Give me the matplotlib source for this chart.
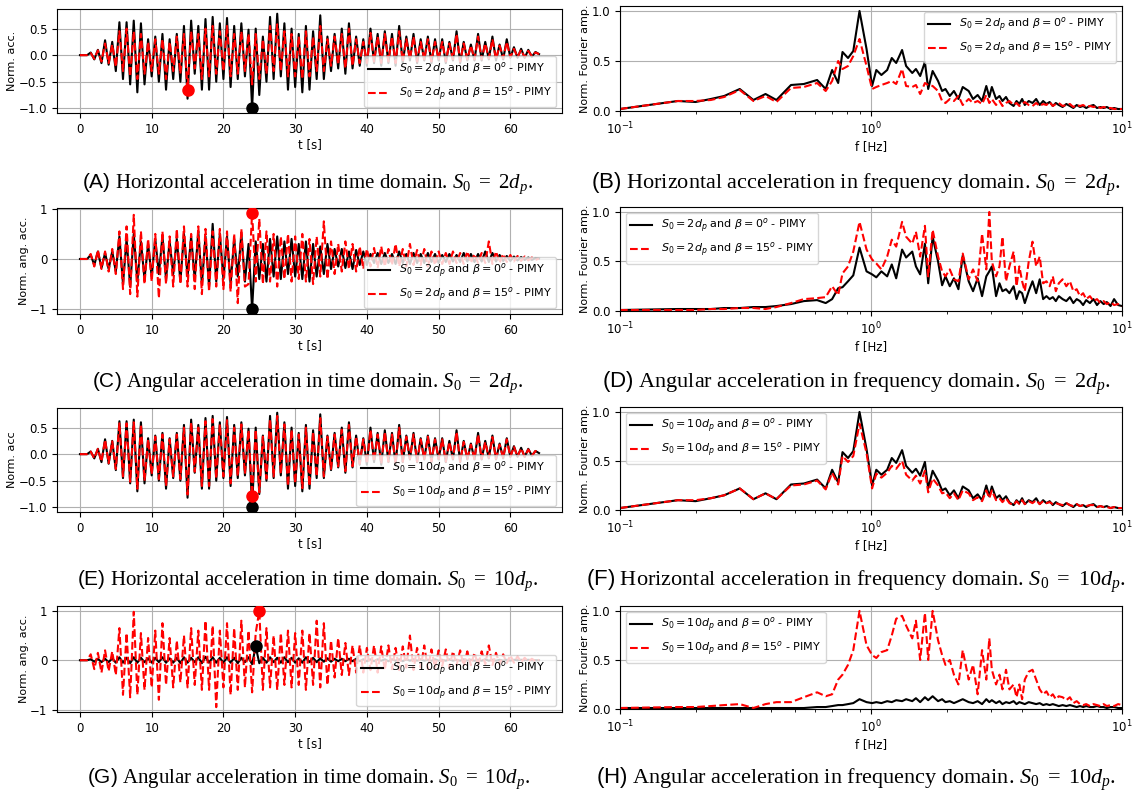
import numpy as np
import matplotlib.pyplot as plt

# time axis of the normalised records [s]
t = np.arange(0, 64.5, 0.5)

# (A)/(E) horizontal acceleration, S0 = 2dp / 10dp
hor_2dp_b0 = [
    0, 0, 0, 0.05, -0.08, 0.10, -0.15, 0.28, -0.18, 0.25, -0.30, 0.62, -0.45, 0.62, -0.55, 0.65, -0.70, 0.60, -0.55, 0.30,
    -0.40, 0.35, -0.50, 0.40, -0.65, 0.30, -0.45, 0.40, -0.50, 0.55, -0.82, 0.65, -0.35, 0.55, -0.65, 0.68, -0.65, 0.72, -0.50, 0.60,
    -0.45, 0.70, -0.60, 0.55, -0.45, 0.60, -0.40, 0.48, -1.00, 0.50, -0.75, 0.35, -0.50, 0.72, -0.45, 0.78, -0.40, 0.60, -0.65, 0.50,
    -0.60, 0.40, -0.70, 0.55, -0.65, 0.45, -0.45, 0.75, -0.45, 0.35, -0.30, 0.40, -0.25, 0.50, -0.35, 0.60, -0.25, 0.35, -0.20, 0.30,
    -0.20, 0.50, -0.15, 0.40, -0.20, 0.45, -0.15, 0.40, -0.20, 0.55, -0.15, 0.35, -0.10, 0.40, -0.15, 0.30, -0.10, 0.35, -0.15, 0.30,
    -0.10, 0.30, -0.15, 0.25, -0.10, 0.45, -0.15, 0.25, -0.10, 0.20, -0.10, 0.40, -0.10, 0.25, -0.08, 0.35, -0.10, 0.20, -0.08, 0.30,
    -0.05, 0.15, -0.05, 0.12, -0.05, 0.10, -0.03, 0.06, 0.02]
hor_2dp_b15 = [
    0, 0, 0, 0.04, -0.07, 0.09, -0.12, 0.22, -0.15, 0.20, -0.22, 0.45, -0.30, 0.50, -0.40, 0.45, -0.45, 0.40, -0.35, 0.25,
    -0.30, 0.30, -0.35, 0.30, -0.45, 0.25, -0.30, 0.35, -0.35, 0.40, -0.65, 0.45, -0.25, 0.40, -0.45, 0.50, -0.40, 0.55, -0.35, 0.45,
    -0.30, 0.55, -0.40, 0.40, -0.35, 0.45, -0.30, 0.40, -0.55, 0.40, -0.45, 0.30, -0.35, 0.55, -0.30, 0.58, -0.30, 0.45, -0.40, 0.40,
    -0.40, 0.35, -0.45, 0.45, -0.40, 0.35, -0.30, 0.55, -0.30, 0.30, -0.20, 0.35, -0.18, 0.40, -0.25, 0.50, -0.20, 0.30, -0.15, 0.25,
    -0.15, 0.42, -0.12, 0.35, -0.15, 0.40, -0.12, 0.35, -0.15, 0.45, -0.12, 0.30, -0.08, 0.35, -0.12, 0.25, -0.08, 0.30, -0.12, 0.25,
    -0.08, 0.25, -0.12, 0.22, -0.08, 0.40, -0.12, 0.22, -0.08, 0.18, -0.08, 0.35, -0.08, 0.22, -0.06, 0.30, -0.08, 0.18, -0.06, 0.25,
    -0.04, 0.12, -0.04, 0.10, -0.04, 0.08, -0.02, 0.05, 0.02]
hor_10dp_b0 = hor_2dp_b0
hor_10dp_b15 = [
    0, 0, 0, 0.05, -0.08, 0.10, -0.14, 0.27, -0.17, 0.24, -0.28, 0.58, -0.42, 0.58, -0.52, 0.60, -0.65, 0.56, -0.50, 0.28,
    -0.38, 0.33, -0.47, 0.37, -0.60, 0.28, -0.42, 0.37, -0.47, 0.50, -0.76, 0.60, -0.33, 0.50, -0.60, 0.62, -0.60, 0.66, -0.46, 0.56,
    -0.42, 0.64, -0.55, 0.50, -0.42, 0.56, -0.37, 0.45, -0.78, 0.46, -0.72, 0.33, -0.46, 0.66, -0.42, 0.72, -0.37, 0.56, -0.60, 0.46,
    -0.55, 0.37, -0.64, 0.50, -0.60, 0.42, -0.42, 0.68, -0.42, 0.33, -0.28, 0.37, -0.23, 0.46, -0.32, 0.55, -0.23, 0.33, -0.18, 0.28,
    -0.18, 0.46, -0.14, 0.37, -0.18, 0.42, -0.14, 0.37, -0.18, 0.50, -0.14, 0.33, -0.09, 0.37, -0.14, 0.28, -0.09, 0.33, -0.14, 0.28,
    -0.09, 0.28, -0.14, 0.23, -0.09, 0.42, -0.14, 0.23, -0.09, 0.18, -0.09, 0.37, -0.09, 0.23, -0.07, 0.32, -0.09, 0.18, -0.07, 0.28,
    -0.05, 0.14, -0.05, 0.11, -0.05, 0.09, -0.03, 0.06, 0.02]

# (C)/(G) angular acceleration
ang_2dp_b0 = [
    0, 0, 0, 0.08, -0.12, 0.15, -0.18, 0.12, -0.20, 0.15, -0.25, 0.45, -0.50, 0.40, -0.55, 0.50, -0.45, 0.35, -0.40, 0.30,
    -0.35, 0.40, -0.30, 0.45, -0.40, 0.35, -0.30, 0.40, -0.45, 0.50, -0.35, 0.45, -0.40, 0.55, -0.50, 0.45, -0.55, 0.70, -0.45, 0.50,
    -0.40, 0.45, -0.50, 0.40, -0.35, 0.50, -0.45, 0.30, -1.00, 0.35, -0.40, 0.30, -0.45, 0.40, -0.35, 0.45, -0.40, 0.35, -0.30, 0.40,
    -0.35, 0.30, -0.40, 0.35, -0.45, 0.30, -0.35, 0.25, -0.30, 0.30, -0.20, 0.20, -0.15, 0.20, -0.18, 0.15, -0.20, 0.18, -0.12, 0.15,
    -0.12, 0.10, -0.08, 0.12, -0.10, 0.12, -0.08, 0.10, -0.10, 0.15, -0.08, 0.10, -0.10, 0.12, -0.08, 0.10, -0.08, 0.12, -0.06, 0.10,
    -0.08, 0.08, -0.06, 0.10, -0.05, 0.08, -0.06, 0.12, -0.05, 0.10, -0.06, 0.10, -0.05, 0.15, -0.06, 0.12, -0.05, 0.08, -0.04, 0.06,
    -0.04, 0.05, -0.03, 0.04, -0.02, 0.03, -0.02, 0.02, 0.01]
ang_2dp_b15 = [
    0, 0, 0, 0.10, -0.15, 0.18, -0.20, 0.15, -0.25, 0.20, -0.30, 0.55, -0.60, 0.65, -0.70, 0.88, -0.75, 0.55, -0.50, 0.40,
    -0.45, 0.50, -0.78, 0.55, -0.50, 0.45, -0.55, 0.60, -0.50, 0.65, -0.55, 0.50, -0.60, 0.65, -0.70, 0.60, -0.65, 0.55, -0.55, 0.60,
    -0.60, 0.55, -0.65, 0.50, -0.88, 0.60, -0.55, -0.50, 0.92, -0.45, 0.80, -0.50, 0.55, -0.45, 0.50, -0.55, 0.45, -0.40, 0.50, -0.45,
    0.45, -0.40, 0.50, -0.45, 0.40, -0.50, 0.45, -0.35, 0.75, -0.40, 0.35, -0.30, 0.30, -0.25, 0.35, -0.20, 0.30, -0.25, 0.25, -0.20,
    0.20, -0.15, 0.22, -0.18, 0.25, -0.15, 0.20, -0.12, 0.30, -0.15, 0.20, -0.15, 0.30, -0.12, 0.18, -0.12, 0.20, -0.15, 0.15, -0.12,
    0.15, -0.10, 0.12, -0.10, 0.15, -0.08, 0.12, -0.10, 0.15, -0.08, 0.10, -0.08, 0.12, -0.08, 0.35, -0.10, 0.15, -0.08, 0.10, -0.06,
    0.08, -0.05, 0.06, -0.04, 0.05, -0.03, 0.03, -0.02, 0.01]
ang_10dp_b0 = [
    0, 0, 0, 0.02, -0.03, 0.03, -0.04, 0.03, -0.04, 0.04, -0.05, 0.06, -0.05, 0.05, -0.06, 0.06, -0.05, 0.05, -0.04, 0.04,
    -0.05, 0.05, -0.04, 0.06, -0.05, 0.04, -0.05, 0.05, -0.06, 0.06, -0.05, 0.05, -0.04, 0.06, -0.06, 0.07, -0.05, 0.06, -0.05, 0.05,
    -0.05, 0.06, -0.05, 0.05, -0.06, 0.05, -0.04, 0.06, -0.08, 0.28, -0.06, 0.05, -0.05, 0.06, -0.04, 0.05, -0.05, 0.06, -0.04, 0.05,
    -0.05, 0.04, -0.05, 0.06, -0.04, 0.05, -0.04, 0.04, -0.03, 0.04, -0.03, 0.03, -0.02, 0.03, -0.02, 0.03, -0.02, 0.03, -0.02, 0.02,
    -0.02, 0.02, -0.02, 0.02, -0.01, 0.02, -0.02, 0.02, -0.01, 0.02, -0.02, 0.02, -0.01, 0.02, -0.01, 0.02, -0.01, 0.01, -0.01, 0.02,
    -0.01, 0.01, -0.01, 0.02, -0.01, 0.01, -0.01, 0.02, -0.01, 0.01, -0.01, 0.01, -0.01, 0.02, -0.01, 0.01, -0.01, 0.01, -0.01, 0.01,
    -0.01, 0.01, 0, 0.01, 0, 0.01, 0, 0, 0]
ang_10dp_b15 = [
    0, 0, 0, 0.12, -0.18, 0.15, -0.25, 0.20, -0.22, 0.18, -0.30, 0.65, -0.70, 0.55, -0.75, 0.98, -0.70, 0.55, -0.60, 0.45,
    -0.55, 0.60, -0.80, 0.75, -0.50, 0.45, -0.55, 0.40, -0.45, 0.50, -0.55, 0.65, -0.50, 0.60, -0.60, 0.80, -0.60, 0.70, -0.95, 0.60,
    -0.55, 0.75, -0.70, 0.65, -0.60, 0.80, -0.55, 0.60, -0.65, 0.55, 1.00, -0.60, 0.65, -0.55, 0.50, -0.60, 0.55, -0.50, 0.60, -0.55,
    0.55, -0.50, 0.60, -0.60, 0.55, -0.50, 0.80, -0.55, 0.75, -0.50, 0.40, -0.35, 0.45, -0.30, 0.35, -0.30, 0.30, -0.25, 0.30, -0.25,
    0.25, -0.20, 0.30, -0.25, 0.28, -0.20, 0.30, -0.18, 0.25, -0.20, 0.28, -0.15, 0.50, -0.20, 0.25, -0.15, 0.30, -0.18, 0.22, -0.15,
    0.20, -0.12, 0.22, -0.15, 0.18, -0.10, 0.20, -0.12, 0.18, -0.10, 0.15, -0.10, 0.18, -0.08, 0.30, -0.10, 0.15, -0.08, 0.12, -0.06,
    0.10, -0.05, 0.08, -0.04, 0.05, -0.03, 0.03, -0.02, 0.01]

# Fourier spectra, frequency axis [Hz]
freq = [0.10, 0.17, 0.20, 0.23, 0.26, 0.30, 0.34, 0.38, 0.42, 0.48, 0.54, 0.61, 0.66, 0.70, 0.74, 0.77, 0.81, 0.85, 0.90, 0.96,
        1.01, 1.05, 1.10, 1.16, 1.21, 1.26, 1.33, 1.38, 1.46, 1.51, 1.57, 1.64, 1.69, 1.76, 1.85, 1.92, 1.98,
        2.06, 2.14, 2.23, 2.32, 2.45, 2.55, 2.66, 2.77, 2.88, 2.96,
        3.03, 3.15, 3.25, 3.34, 3.45, 3.56, 3.70, 3.80, 3.90, 4.00, 4.10, 4.25, 4.40, 4.55, 4.70, 4.85,
        5.00, 5.15, 5.30, 5.45, 5.60, 5.80, 6.00, 6.20, 6.40, 6.60, 6.80, 7.00, 7.20, 7.45, 7.70, 7.95, 8.20, 8.45, 8.70, 9.00, 9.30, 9.65, 10.0]

fft_hor_2dp_b0 = [
    0.02, 0.10, 0.09, 0.12, 0.15, 0.22, 0.11, 0.17, 0.11, 0.26, 0.27, 0.31, 0.22, 0.41, 0.28, 0.59, 0.53, 0.60, 1.00, 0.62,
    0.25, 0.41, 0.36, 0.41, 0.53, 0.48, 0.61, 0.45, 0.38, 0.42, 0.35, 0.49, 0.22, 0.40, 0.30, 0.20, 0.22,
    0.15, 0.20, 0.12, 0.24, 0.20, 0.12, 0.16, 0.10, 0.25, 0.14,
    0.24, 0.12, 0.15, 0.10, 0.14, 0.08, 0.05, 0.10, 0.07, 0.12, 0.06, 0.10, 0.08, 0.12, 0.06, 0.10,
    0.07, 0.09, 0.05, 0.08, 0.06, 0.04, 0.07, 0.05, 0.03, 0.06, 0.04, 0.05, 0.03, 0.05, 0.06, 0.03, 0.04, 0.03, 0.04, 0.02, 0.03, 0.02, 0.02]
fft_hor_2dp_b15 = [
    0.02, 0.10, 0.10, 0.11, 0.14, 0.21, 0.10, 0.15, 0.09, 0.23, 0.24, 0.28, 0.20, 0.30, 0.50, 0.42, 0.45, 0.55, 0.72, 0.45,
    0.22, 0.24, 0.26, 0.28, 0.30, 0.27, 0.42, 0.25, 0.24, 0.26, 0.17, 0.28, 0.26, 0.25, 0.20, 0.10, 0.08,
    0.12, 0.10, 0.15, 0.06, 0.12, 0.08, 0.10, 0.07, 0.16, 0.08,
    0.12, 0.06, 0.10, 0.05, 0.08, 0.10, 0.06, 0.08, 0.05, 0.07, 0.09, 0.06, 0.05, 0.08, 0.05, 0.07,
    0.06, 0.09, 0.05, 0.07, 0.08, 0.05, 0.06, 0.07, 0.04, 0.06, 0.05, 0.06, 0.04, 0.05, 0.04, 0.05, 0.03, 0.04, 0.03, 0.03, 0.02, 0.02, 0.02]
fft_ang_2dp_b0 = [
    0.01, 0.02, 0.02, 0.02, 0.03, 0.03, 0.04, 0.04, 0.05, 0.07, 0.10, 0.11, 0.08, 0.12, 0.23, 0.24, 0.30, 0.36, 0.64, 0.40,
    0.37, 0.34, 0.40, 0.35, 0.47, 0.33, 0.62, 0.54, 0.60, 0.45, 0.37, 0.68, 0.28, 0.75, 0.50, 0.26, 0.35,
    0.25, 0.33, 0.22, 0.56, 0.30, 0.20, 0.33, 0.15, 0.35, 0.40,
    0.45, 0.15, 0.28, 0.20, 0.22, 0.18, 0.25, 0.12, 0.20, 0.18, 0.08, 0.20, 0.30, 0.18, 0.32, 0.12,
    0.15, 0.12, 0.14, 0.10, 0.15, 0.12, 0.10, 0.14, 0.08, 0.12, 0.10, 0.06, 0.11, 0.08, 0.12, 0.06, 0.10, 0.07, 0.09, 0.05, 0.12, 0.06, 0.05]
fft_ang_2dp_b15 = [
    0.01, 0.01, 0.01, 0.02, 0.02, 0.03, 0.03, 0.02, 0.04, 0.08, 0.12, 0.13, 0.14, 0.25, 0.16, 0.38, 0.45, 0.60, 0.90, 0.62,
    0.52, 0.48, 0.42, 0.55, 0.72, 0.65, 0.90, 0.75, 0.68, 0.80, 0.55, 0.86, 0.35, 0.82, 0.55, 0.40, 0.35,
    0.42, 0.32, 0.30, 0.58, 0.32, 0.42, 0.30, 0.78, 0.42, 1.00,
    0.50, 0.35, 0.45, 0.75, 0.30, 0.45, 0.60, 0.25, 0.45, 0.30, 0.20, 0.50, 0.70, 0.45, 0.55, 0.28,
    0.30, 0.25, 0.35, 0.20, 0.28, 0.32, 0.25, 0.30, 0.20, 0.22, 0.15, 0.18, 0.12, 0.15, 0.10, 0.12, 0.08, 0.10, 0.07, 0.09, 0.06, 0.07, 0.05]
fft_hor_10dp_b0 = fft_hor_2dp_b0
fft_hor_10dp_b15 = [
    0.02, 0.10, 0.10, 0.12, 0.15, 0.22, 0.11, 0.17, 0.11, 0.25, 0.26, 0.30, 0.21, 0.38, 0.26, 0.55, 0.49, 0.55, 0.88, 0.58,
    0.22, 0.37, 0.33, 0.38, 0.45, 0.42, 0.50, 0.36, 0.30, 0.35, 0.27, 0.40, 0.18, 0.32, 0.25, 0.17, 0.18,
    0.12, 0.17, 0.10, 0.20, 0.17, 0.10, 0.13, 0.09, 0.20, 0.12,
    0.20, 0.10, 0.12, 0.08, 0.12, 0.07, 0.05, 0.09, 0.06, 0.10, 0.06, 0.09, 0.07, 0.10, 0.06, 0.09,
    0.07, 0.08, 0.06, 0.07, 0.06, 0.05, 0.07, 0.05, 0.04, 0.06, 0.04, 0.05, 0.04, 0.05, 0.05, 0.03, 0.04, 0.03, 0.03, 0.02, 0.03, 0.02, 0.02]
fft_ang_10dp_b0 = [
    0.01, 0.01, 0.01, 0.01, 0.01, 0.01, 0.01, 0.01, 0.01, 0.01, 0.01, 0.02, 0.02, 0.03, 0.04, 0.04, 0.05, 0.06, 0.10, 0.07,
    0.06, 0.07, 0.06, 0.08, 0.07, 0.09, 0.08, 0.10, 0.08, 0.11, 0.07, 0.12, 0.09, 0.13, 0.08, 0.10, 0.07,
    0.08, 0.06, 0.08, 0.10, 0.07, 0.06, 0.08, 0.05, 0.10, 0.07,
    0.09, 0.06, 0.08, 0.05, 0.07, 0.06, 0.08, 0.05, 0.07, 0.06, 0.05, 0.07, 0.06, 0.05, 0.06, 0.04,
    0.05, 0.04, 0.05, 0.04, 0.03, 0.04, 0.03, 0.04, 0.03, 0.02, 0.03, 0.02, 0.03, 0.02, 0.02, 0.03, 0.02, 0.02, 0.01, 0.02, 0.02, 0.01, 0.01]
fft_ang_10dp_b15 = [
    0.01, 0.02, 0.02, 0.03, 0.04, 0.05, 0.01, 0.05, 0.07, 0.07, 0.12, 0.17, 0.13, 0.15, 0.30, 0.35, 0.45, 0.60, 1.00, 0.65,
    0.55, 0.52, 0.58, 0.60, 0.75, 0.92, 0.95, 0.85, 0.72, 0.90, 0.50, 0.98, 0.50, 1.00, 0.70, 0.55, 0.45,
    0.50, 0.35, 0.25, 0.60, 0.30, 0.45, 0.15, 0.60, 0.30, 0.72,
    0.40, 0.25, 0.35, 0.20, 0.40, 0.20, 0.25, 0.12, 0.25, 0.10, 0.30, 0.38, 0.40, 0.30, 0.20, 0.15,
    0.18, 0.12, 0.15, 0.10, 0.13, 0.12, 0.09, 0.12, 0.06, 0.08, 0.05, 0.04, 0.05, 0.03, 0.05, 0.04, 0.03, 0.05, 0.03, 0.04, 0.03, 0.05, 0.04]

captions = [
    r"$\mathsf{(A)}$ Horizontal acceleration in time domain. $S_0\ =\ 2d_p$.",
    r"$\mathsf{(B)}$ Horizontal acceleration in frequency domain. $S_0\ =\ 2d_p$.",
    r"$\mathsf{(C)}$ Angular acceleration in time domain. $S_0\ =\ 2d_p$.",
    r"$\mathsf{(D)}$ Angular acceleration in frequency domain. $S_0\ =\ 2d_p$.",
    r"$\mathsf{(E)}$ Horizontal acceleration in time domain. $S_0\ =\ 10d_p$.",
    r"$\mathsf{(F)}$ Horizontal acceleration in frequency domain. $S_0\ =\ 10d_p$.",
    r"$\mathsf{(G)}$ Angular acceleration in time domain. $S_0\ =\ 10d_p$.",
    r"$\mathsf{(H)}$ Angular acceleration in frequency domain. $S_0\ =\ 10d_p$.",
]

plt.rcParams['font.size'] = 8.5
# fonts used by the captions (math_fontfamily='custom')
plt.rcParams['mathtext.rm'] = 'Liberation Serif'
plt.rcParams['mathtext.it'] = 'Liberation Serif:italic'
plt.rcParams['mathtext.sf'] = 'Liberation Sans'


def labels(s0):
    return (r'$S_0 = %s$ and $\beta = 0^o$ - PIMY' % s0,
            r'$S_0 = %s$ and $\beta = 15^o$ - PIMY' % s0)


def time_panel(ax, y0, y15, s0, ylab, yticks):
    y0 = np.array(y0)
    y15 = np.array(y15)
    l0, l15 = labels(s0)
    ax.plot(t, y0, 'k-', lw=1.5, label=l0)
    ax.plot(t, y15, 'r--', lw=1.5, label=l15)
    # markers at the peak of each record
    i0 = np.argmax(np.abs(y0))
    i15 = np.argmax(np.abs(y15))
    ax.plot(t[i0], y0[i0], 'ko', ms=8, zorder=4)
    ax.plot(t[i15], y15[i15], 'ro', ms=8, zorder=4)
    ax.set_xlim(-3.2, 67.2)
    ax.set_yticks(yticks)
    ax.set_xlabel('t [s]', labelpad=2)
    ax.set_ylabel(ylab, fontsize=8, labelpad=1)
    ax.grid(True)
    ax.legend(loc='lower right', fontsize=8)


def freq_panel(ax, a0, a15, s0, loc):
    l0, l15 = labels(s0)
    ax.plot(freq, a0, 'k-', lw=1.5, label=l0)
    ax.plot(freq, a15, 'r--', lw=1.5, label=l15)
    ax.set_xscale('log')
    ax.set_xlim(0.1, 10)
    ax.set_ylim(0, 1.05)
    ax.set_yticks([0.0, 0.5, 1.0])
    ax.set_xlabel('f [Hz]', labelpad=2)
    ax.set_ylabel('Norm. Fourier amp.', fontsize=8, labelpad=1)
    ax.grid(True)
    ax.legend(loc=loc, fontsize=8)


fig = plt.figure(figsize=(11.32, 7.98), dpi=100)
H = 798.0
W = 1132.0


def box(x0, x1, y0, y1):
    return [x0 / W, 1 - y1 / H, (x1 - x0) / W, (y1 - y0) / H]


axA = fig.add_axes(box(57, 562, 9, 113))
axB = fig.add_axes(box(620, 1122, 6, 111))
axC = fig.add_axes(box(57, 562, 208, 314))
axD = fig.add_axes(box(620, 1122, 207, 311))
axE = fig.add_axes(box(57, 562, 408, 512))
axF = fig.add_axes(box(620, 1122, 407, 510))
axG = fig.add_axes(box(57, 562, 606, 712))
axH = fig.add_axes(box(620, 1122, 606, 709))

time_panel(axA, hor_2dp_b0, hor_2dp_b15, '2d_p', 'Norm. acc.', [-1.0, -0.5, 0.0, 0.5])
freq_panel(axB, fft_hor_2dp_b0, fft_hor_2dp_b15, '2d_p', 'upper right')
time_panel(axC, ang_2dp_b0, ang_2dp_b15, '2d_p', 'Norm. ang. acc.', [-1, 0, 1])
freq_panel(axD, fft_ang_2dp_b0, fft_ang_2dp_b15, '2d_p', 'upper left')
time_panel(axE, hor_10dp_b0, hor_10dp_b15, '10d_p', 'Norm. acc', [-1.0, -0.5, 0.0, 0.5])
freq_panel(axF, fft_hor_10dp_b0, fft_hor_10dp_b15, '10d_p', 'upper left')
time_panel(axG, ang_10dp_b0, ang_10dp_b15, '10d_p', 'Norm. ang. acc.', [-1, 0, 1])
freq_panel(axH, fft_ang_10dp_b0, fft_ang_10dp_b15, '10d_p', 'upper left')

cap_y = [184, 383, 581, 779]
for k, cap in enumerate(captions):
    if k % 2 == 0:
        x, fs = 308, 15
    else:
        x, fs = 856, 16
    y = cap_y[k // 2]
    fig.text(x / W, 1 - y / H, cap, ha='center', va='center', fontsize=fs,
             family='Liberation Serif', math_fontfamily='custom')

fig.savefig('out.png', dpi=100)
